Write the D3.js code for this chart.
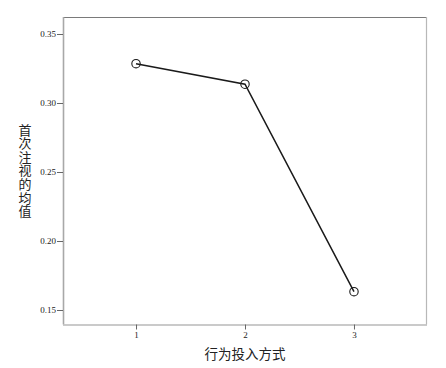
<!DOCTYPE html>
<html>
<head>
<meta charset="utf-8">
<script src="https://cdn.jsdelivr.net/npm/d3@7"></script>
<style>
  html, body { margin: 0; padding: 0; background: #fff; }
  svg { display: block; }
</style>
</head>
<body>
<svg id="chart" width="446" height="368"></svg>
<script>
const categories = [1, 2, 3]
const means = [0.3285, 0.3136, 0.1633]
const yTicks = [0.15, 0.20, 0.25, 0.30, 0.35]
const xTitle = '行为投入方式'
const yTitle = '首次注视的均值'

const width = 446
const height = 368
const plot = { left: 63, top: 17, right: 427, bottom: 324.5 }

const svg = d3.select('#chart')

const scaleX = d3.scaleLinear()
  .domain([0.33, 3.67])
  .range([plot.left, plot.right])

// 0.35 sits at y=34, 0.15 at y=310
const scaleY = d3.scaleLinear()
  .domain([0.15, 0.35])
  .range([310, 34])

// frame: top/right drawn separately, they are lighter/darker than the axes
svg.append('line')
  .attr('x1', plot.left).attr('x2', plot.right)
  .attr('y1', plot.top + 0.5).attr('y2', plot.top + 0.5)
  .attr('stroke', '#7a7a7a').attr('stroke-width', 1.2)
svg.append('line')
  .attr('x1', plot.right - 0.5).attr('x2', plot.right - 0.5)
  .attr('y1', plot.top).attr('y2', plot.bottom)
  .attr('stroke', '#b8b8b8').attr('stroke-width', 1.2)

const yAxis = d3.axisLeft(scaleY)
  .tickValues(yTicks)
  .tickFormat(d3.format('.2f'))
  .tickSize(6)
  .tickPadding(1)

const gy = svg.append('g')
  .attr('transform', `translate(${plot.left},0)`)
  .call(yAxis)
gy.select('.domain')
  .attr('d', `M0.5,${plot.top}V${plot.bottom}`)
  .attr('stroke', '#a8a8a8').attr('stroke-width', 1.6)
gy.selectAll('.tick line').attr('stroke', '#666')
gy.selectAll('.tick text')
  .attr('font-family', '"Liberation Serif", "DejaVu Serif", serif')
  .attr('font-size', 9)
  .attr('fill', '#222')

const xAxis = d3.axisBottom(scaleX)
  .tickValues(categories)
  .tickFormat(d3.format('d'))
  .tickSize(5)
  .tickPadding(2)

const gx = svg.append('g')
  .attr('transform', `translate(0,${plot.bottom})`)
  .call(xAxis)
gx.select('.domain')
  .attr('d', `M${plot.left},0.5H${plot.right}`)
  .attr('stroke', '#b8b8b8').attr('stroke-width', 1.6)
gx.selectAll('.tick line').attr('stroke', '#666')
gx.selectAll('.tick text')
  .attr('font-family', '"Liberation Serif", "DejaVu Serif", serif')
  .attr('font-size', 9)
  .attr('fill', '#222')

const points = categories.map((c, i) => ({ cat: c, mean: means[i] }))

const line = d3.line()
  .x(d => scaleX(d.cat))
  .y(d => scaleY(d.mean))

svg.append('path')
  .datum(points)
  .attr('fill', 'none')
  .attr('stroke', '#1a1a1a')
  .attr('stroke-width', 1.5)
  .attr('d', line)

svg.selectAll('circle.pt')
  .data(points)
  .enter()
  .append('circle')
  .attr('class', 'pt')
  .attr('r', 4.2)
  .attr('fill', 'none')
  .attr('stroke', '#1a1a1a')
  .attr('stroke-width', 1.1)
  .attr('cx', d => scaleX(d.cat))
  .attr('cy', d => scaleY(d.mean))

svg.append('text')
  .attr('x', scaleX(2))
  .attr('y', 359)
  .attr('text-anchor', 'middle')
  .attr('font-family', '"Noto Sans CJK SC", sans-serif')
  .attr('font-size', 13.5)
  .attr('fill', '#222')
  .text(xTitle)

// vertical title as a single upright text run
svg.append('text')
  .attr('x', 25)
  .attr('y', (plot.top + plot.bottom) / 2)
  .attr('text-anchor', 'middle')
  .attr('font-family', '"Noto Sans CJK SC", sans-serif')
  .attr('font-size', 13)
  .attr('letter-spacing', 0.6)
  .attr('fill', '#222')
  .style('writing-mode', 'vertical-rl')
  .style('text-orientation', 'upright')
  .text(yTitle)
</script>
</body>
</html>
